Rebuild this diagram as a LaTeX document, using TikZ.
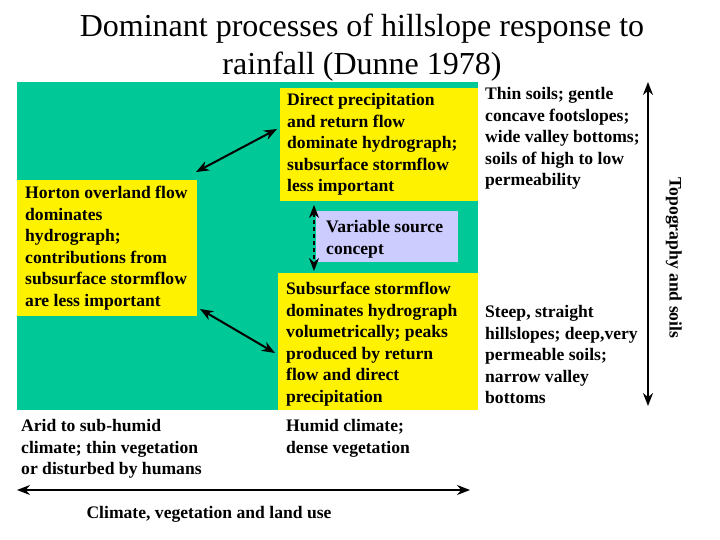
\documentclass[tikz,border=0pt]{standalone}
\usepackage{fontspec}
\setmainfont{Liberation Serif}
\usetikzlibrary{arrows.meta}
\definecolor{teal1}{RGB}{0,200,150}
\definecolor{lav}{RGB}{204,204,255}
\begin{document}
\begin{tikzpicture}[x=1pt,y=-1pt,
 box/.style={fill=yellow,draw=none},
 bt/.style={anchor=north west,align=left,inner sep=0pt,font=\fontsize{17.6}{21.6}\selectfont\bfseries},
 dbl/.style={{Stealth[length=13pt,width=10pt]}-{Stealth[length=13pt,width=10pt]},line width=2pt}]
\useasboundingbox (0,0) rectangle (720,540);
\node[anchor=north,align=center,font=\fontsize{32}{38}\selectfont] (title) at (362,10) {Dominant processes of hillslope response to\\rainfall (Dunne 1978)};
\fill[teal1] (17,82) rectangle (478,410);
\fill[box] (17,180) rectangle (197,316);
\fill[box] (280,88) rectangle (478,201);
\fill[lav] (316,211) rectangle (458,262);
\fill[box] (278,273) rectangle (478,410);
\node[bt] (horton) at (25,186) {Horton overland flow\\dominates\\hydrograph;\\contributions from\\subsurface stormflow\\are less important};
\node[bt] (direct) at (287,93) {Direct precipitation\\and return flow\\dominate hydrograph;\\subsurface stormflow\\less important};
\node[bt] (vsc) at (326,220) {Variable source\\concept};
\node[bt] (sub) at (286,282) {Subsurface stormflow\\dominates hydrograph\\volumetrically; peaks\\produced by return\\flow and direct\\precipitation};
\node[bt] (arid) at (21,419) {Arid to sub-humid\\climate; thin vegetation\\or disturbed by humans};
\node[bt] (humid) at (286,419) {Humid climate;\\dense vegetation};
\node[bt] (thin) at (485,87) {Thin soils; gentle\\concave footslopes;\\wide valley bottoms;\\soils of high to low\\permeability};
\node[bt] (steep) at (485,305) {Steep, straight\\hillslopes; deep,very\\permeable soils;\\narrow valley\\bottoms};
\node[bt,anchor=north] (clim) at (209,506) {Climate, vegetation and land use};
\node[bt,anchor=north,rotate=-90] (topo) at (682,258) {Topography and soils};
\coordinate (a1) at (196,172); \coordinate (a2) at (277,129);
\coordinate (b1) at (200,309); \coordinate (b2) at (275,353);
\coordinate (c1) at (314,205); \coordinate (c2) at (314,271);
\coordinate (h1) at (17,490); \coordinate (h2) at (470,490);
\coordinate (v1) at (648,82); \coordinate (v2) at (648,406);
\draw[dbl] (a1) -- (a2);
\draw[dbl] (b1) -- (b2);
\draw[dbl,line width=1.5pt,dash pattern=on 4pt off 3pt] (c1) -- (c2);
\draw[dbl,line width=1.5pt] (h1) -- (h2);
\draw[dbl,line width=1.5pt] (v1) -- (v2);
\end{tikzpicture}
\end{document}
